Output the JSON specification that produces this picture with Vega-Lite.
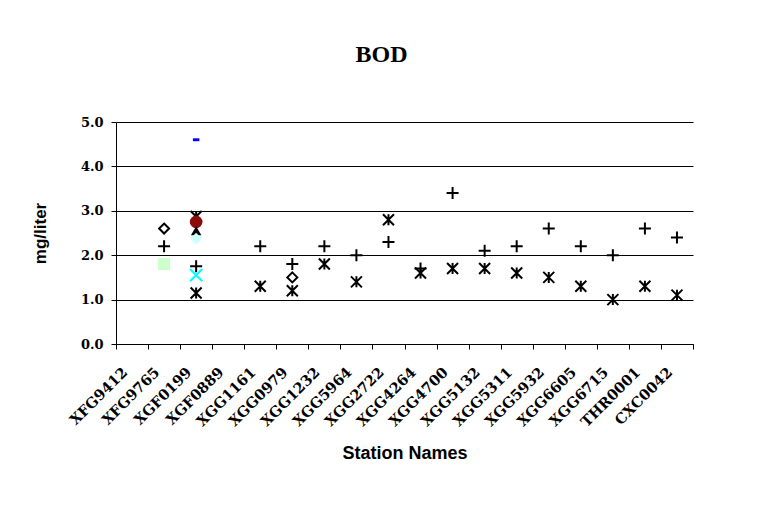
{
  "$schema": "https://vega.github.io/schema/vega-lite/v6.json",
  "width": 577,
  "height": 222,
  "autosize": {"type": "none"},
  "padding": {"left": 116, "top": 122, "right": 65, "bottom": 171},
  "background": "white",
  "config": {"view": {"stroke": null}},
  "title": {"text": "BOD", "font": "Liberation Serif", "fontSize": 24, "fontWeight": "bold", "anchor": "middle", "dx": -23, "offset": 49, "color": "black"},
  "data": {"values": [
    {"station": "XFG9765", "value": 2.2, "series": "S1"},
    {"station": "XGF0199", "value": 1.75, "series": "S1"},
    {"station": "XGG1161", "value": 2.2, "series": "S1"},
    {"station": "XGG0979", "value": 1.8, "series": "S1"},
    {"station": "XGG1232", "value": 2.2, "series": "S1"},
    {"station": "XGG5964", "value": 2.0, "series": "S1"},
    {"station": "XGG2722", "value": 2.3, "series": "S1"},
    {"station": "XGG4264", "value": 1.7, "series": "S1"},
    {"station": "XGG4700", "value": 3.4, "series": "S1"},
    {"station": "XGG5132", "value": 2.1, "series": "S1"},
    {"station": "XGG5311", "value": 2.2, "series": "S1"},
    {"station": "XGG5932", "value": 2.6, "series": "S1"},
    {"station": "XGG6605", "value": 2.2, "series": "S1"},
    {"station": "XGG6715", "value": 2.0, "series": "S1"},
    {"station": "THR0001", "value": 2.6, "series": "S1"},
    {"station": "CXC0042", "value": 2.4, "series": "S1"},
    {"station": "XGF0199", "value": 1.15, "series": "S2"},
    {"station": "XGG1161", "value": 1.3, "series": "S2"},
    {"station": "XGG0979", "value": 1.2, "series": "S2"},
    {"station": "XGG1232", "value": 1.8, "series": "S2"},
    {"station": "XGG5964", "value": 1.4, "series": "S2"},
    {"station": "XGG2722", "value": 2.8, "series": "S2"},
    {"station": "XGG4264", "value": 1.6, "series": "S2"},
    {"station": "XGG4700", "value": 1.7, "series": "S2"},
    {"station": "XGG5132", "value": 1.7, "series": "S2"},
    {"station": "XGG5311", "value": 1.6, "series": "S2"},
    {"station": "XGG5932", "value": 1.5, "series": "S2"},
    {"station": "XGG6605", "value": 1.3, "series": "S2"},
    {"station": "XGG6715", "value": 1.0, "series": "S2"},
    {"station": "THR0001", "value": 1.3, "series": "S2"},
    {"station": "CXC0042", "value": 1.1, "series": "S2"},
    {"station": "XFG9765", "value": 2.6, "series": "S3"},
    {"station": "XGG0979", "value": 1.5, "series": "S3"},
    {"station": "XFG9765", "value": 1.8, "series": "S4"},
    {"station": "XGF0199", "value": 4.6, "series": "S5"},
    {"station": "XGF0199", "value": 2.75, "series": "S6"},
    {"station": "XGF0199", "value": 2.87, "series": "S7"},
    {"station": "XGF0199", "value": 2.55, "series": "S8"},
    {"station": "XGF0199", "value": 2.37, "series": "S9"},
    {"station": "XGF0199", "value": 1.55, "series": "S10"}
  ]},
  "encoding": {
    "x": {
      "field": "station", "type": "nominal",
      "scale": {"domain": ["XFG9412","XFG9765","XGF0199","XGF0889","XGG1161","XGG0979","XGG1232","XGG5964","XGG2722","XGG4264","XGG4700","XGG5132","XGG5311","XGG5932","XGG6605","XGG6715","THR0001","CXC0042"], "paddingInner": 0, "paddingOuter": 0},
      "axis": {"title": "Station Names", "titleFont": "Liberation Sans", "titleFontSize": 18, "titleFontWeight": "bold", "titleColor": "black", "titlePadding": 16,
               "labelAngle": -45, "labelAlign": "right", "labelBaseline": "middle", "labelFont": "DejaVu Serif", "labelFontSize": 14.5, "labelFontWeight": "bold", "labelColor": "black", "labelPadding": 21, "labelOffset": -7, "labelOverlap": false,
               "tickBand": "extent", "tickSize": 5, "tickColor": "black", "domainColor": "black", "grid": false}
    },
    "y": {
      "field": "value", "type": "quantitative",
      "scale": {"domain": [0, 5], "nice": false},
      "axis": {"title": "mg/liter", "titleFont": "Liberation Sans", "titleFontSize": 17, "titleFontWeight": "bold", "titleColor": "black", "titlePadding": 31,
               "values": [0, 1, 2, 3, 4, 5], "format": ".1f", "labelFont": "DejaVu Serif", "labelFontSize": 13, "labelFontWeight": "bold", "labelColor": "black", "labelPadding": 8,
               "tickSize": 5, "tickColor": "black", "domainColor": "black", "gridColor": "black", "gridOpacity": 1}
    },
    "shape": {
      "field": "series", "type": "nominal", "legend": null,
      "scale": {
        "domain": ["S1","S2","S3","S4","S5","S6","S7","S8","S9","S10"],
        "range": ["M-1,0L1,0M0,-1L0,1", "M-1,-1L1,1M-1,1L1,-1M0,-1L0,1", "M0,-1L1,0L0,1L-1,0Z", "square", "M-1,-0.45L1,-0.45L1,0.45L-1,0.45Z", "circle", "M-1,-1L1,1M-1,1L1,-1M0,-1L0,1", "triangle-up", "M0,-1L1,0L0,1L-1,0Z", "M-1,-1L1,1M-1,1L1,-1"]
      }
    },
    "size": {
      "field": "series", "type": "nominal", "legend": null,
      "scale": {
        "type": "ordinal",
        "domain": ["S1","S2","S3","S4","S5","S6","S7","S8","S9","S10"],
        "range": [144, 121, 100, 144, 42, 160, 121, 110, 140, 150]
      }
    }
  },
  "layer": [
    {
      "transform": [{"filter": {"field": "series", "oneOf": ["S1","S2","S3","S7","S10"]}}],
      "mark": {"type": "point", "filled": false, "strokeWidth": 2, "opacity": 1},
      "encoding": {
        "stroke": {"field": "series", "type": "nominal", "legend": null,
          "scale": {"domain": ["S1","S2","S3","S7","S10"], "range": ["#000000","#000000","#000000","#000000","#00ffff"]}}
      }
    },
    {
      "transform": [{"filter": {"field": "series", "oneOf": ["S4","S5","S6","S8","S9"]}}],
      "mark": {"type": "point", "filled": true, "strokeWidth": 0, "opacity": 1},
      "encoding": {
        "fill": {"field": "series", "type": "nominal", "legend": null,
          "scale": {"domain": ["S4","S5","S6","S8","S9"], "range": ["#ccffcc","#0000ff","#8b0a0a","#000000","#ccffff"]}}
      }
    }
  ]
}
